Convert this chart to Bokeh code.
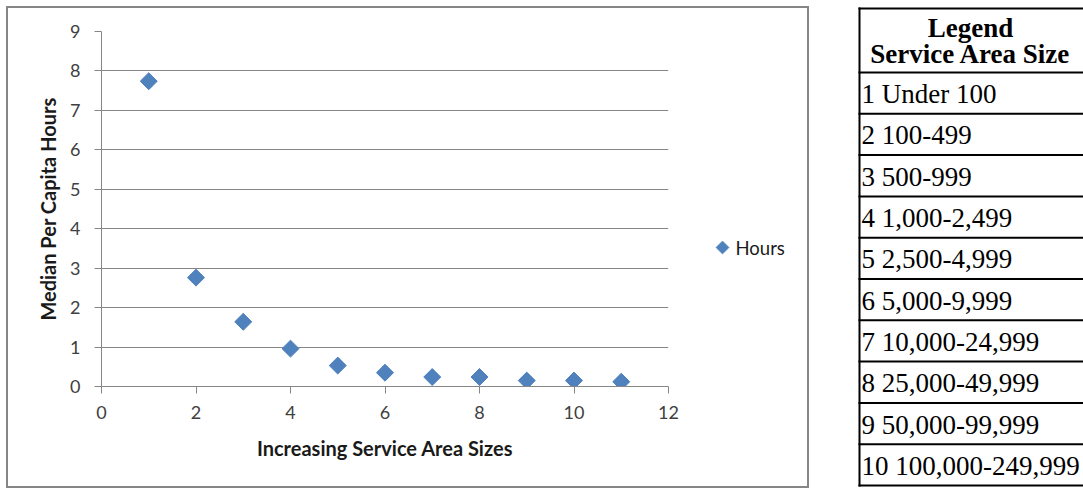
from bokeh.plotting import figure
from bokeh.models import Range1d, FixedTicker, Row
from bokeh.layouts import row, column
from bokeh.core.properties import value
from bokeh.embed import file_html
from bokeh.resources import INLINE

# Service area size class (1 = smallest) and median per capita hours
area_size_code = [1, 2, 3, 4, 5, 6, 7, 8, 9, 10, 11]
median_hours = [7.74, 2.76, 1.64, 0.96, 0.53, 0.35, 0.24, 0.24, 0.15, 0.15, 0.12]

x_ticks = [0, 2, 4, 6, 8, 10, 12]
y_ticks = [0, 1, 2, 3, 4, 5, 6, 7, 8, 9]

series_name = "Hours"
legend_header = ["Legend", "Service Area Size"]
size_classes = [
    "1 Under 100",
    "2 100-499",
    "3 500-999",
    "4 1,000-2,499",
    "5 2,500-4,999",
    "6 5,000-9,999",
    "7 10,000-24,999",
    "8 25,000-49,999",
    "9 50,000-99,999",
    "10 100,000-249,999",
]

SANS = "Lato"
SERIF = "Liberation Serif"
GRID = "#868686"
BLUE = "#4F81BD"
DIAMOND = 0.785398  # square marker turned 45 degrees

# ---- scatter chart -------------------------------------------------------
p = figure(
    width=692, height=478,
    x_range=Range1d(0, 12), y_range=Range1d(0, 9),
    output_backend="svg", toolbar_location=None,
    min_border_left=93, min_border_right=32,
    min_border_top=23, min_border_bottom=100,
)
p.outline_line_color = None
p.background_fill_color = "white"
p.border_fill_color = "white"

p.xgrid.grid_line_color = None
p.ygrid.grid_line_color = GRID
p.ygrid.grid_line_width = 1

p.xaxis.ticker = FixedTicker(ticks=x_ticks)
p.yaxis.ticker = FixedTicker(ticks=y_ticks)

for ax in (p.xaxis[0], p.yaxis[0]):
    ax.axis_line_color = GRID
    ax.major_tick_line_color = GRID
    ax.major_tick_out = 7
    ax.major_tick_in = 0
    ax.minor_tick_line_color = None
    ax.major_label_text_font = SANS
    ax.major_label_text_font_size = "18px"
    ax.major_label_text_color = "#404040"
    ax.axis_label_text_font = SANS
    ax.axis_label_text_font_size = "20px"
    ax.axis_label_text_font_style = "bold"
    ax.axis_label_text_color = "#1a1a1a"

p.xaxis.axis_label = "Increasing Service Area Sizes"
p.yaxis.axis_label = "Median Per Capita Hours"
p.xaxis.major_label_standoff = 12
p.xaxis.axis_label_standoff = 14
p.yaxis.major_label_standoff = 14
p.yaxis.axis_label_standoff = 7

p.scatter(area_size_code, median_hours, marker="square", size=12,
          angle=DIAMOND, fill_color=BLUE, line_color=BLUE)

# ---- series key beside the plot area -------------------------------------
key = figure(
    width=107, height=478,
    x_range=Range1d(0, 107), y_range=Range1d(478, 0),
    output_backend="svg", toolbar_location=None,
    min_border=0, x_axis_type=None, y_axis_type=None,
)
key.outline_line_color = None
key.xgrid.visible = False
key.ygrid.visible = False
key.scatter([22], [239], marker="square", size=9, angle=DIAMOND,
            fill_color=BLUE, line_color=BLUE)
key.text(x=[35], y=[239], text=[series_name],
         text_font=value(SANS), text_font_size="18.5px",
         text_align="left", text_baseline="middle", text_color="#1a1a1a")

chart_box = Row(children=[p, column(key)], spacing=0,
                styles={"border": "2px solid #868686"}, margin=(6, 0, 0, 6))

# ---- legend table --------------------------------------------------------
t = figure(
    width=274, height=490,
    x_range=Range1d(810, 1084), y_range=Range1d(490, 0),
    output_backend="svg", toolbar_location=None,
    min_border=0, x_axis_type=None, y_axis_type=None,
)
t.outline_line_color = None
t.xgrid.visible = False
t.ygrid.visible = False

row_h = 41.3
header_bottom = 72.0
rule_y = [8.0, header_bottom] + [header_bottom + row_h * (i + 1) for i in range(len(size_classes))]
t.segment(x0=[859] * len(rule_y), y0=rule_y, x1=[1090] * len(rule_y), y1=rule_y,
          line_color="black", line_width=2)
t.segment(x0=[860], y0=[7], x1=[860], y1=[rule_y[-1] + 1], line_color="black", line_width=2)

t.text(x=[971, 971], y=[27, 53], text=legend_header,
       text_font=value(SERIF), text_font_size="27px", text_font_style="bold",
       text_align="center", text_baseline="middle", text_color="black")
t.text(x=[862] * len(size_classes),
       y=[header_bottom + row_h * (i + 0.5) + 1 for i in range(len(size_classes))],
       text=size_classes,
       text_font=value(SERIF), text_font_size="27px",
       text_align="left", text_baseline="middle", text_color="black")

layout = row(chart_box, column(t), spacing=0)
open("out.html", "w").write(file_html(layout, INLINE))
